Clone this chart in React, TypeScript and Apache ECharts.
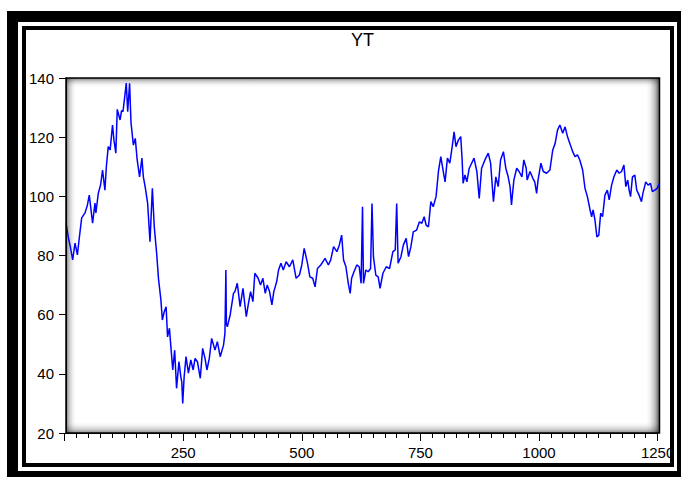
import React, { useEffect, useRef } from "react";
import * as echarts from "echarts";

const obs = [
  3, 8, 12, 17, 22, 27, 31, 36, 43, 48, 52, 56, 59, 64, 66, 71, 76, 80, 85, 88, 92, 96, 101, 104, 108, 111, 117, 120, 123, 126, 130, 133, 137, 140, 145, 149, 153, 158, 163, 166, 170, 175, 180, 185, 189, 194, 198,
  203, 206, 210, 214, 217, 221, 224, 228, 232, 236, 241, 245, 247, 249, 252, 256, 261, 266, 271, 275, 280, 286, 291, 296, 300, 305, 310, 317, 322, 328, 335, 338, 340, 341, 343, 349, 356, 359, 364, 370, 376, 383, 387, 392, 397, 401, 408, 413, 418, 423, 427, 432, 437, 441, 447, 451, 456, 461, 467, 474, 481, 488, 495,
  500, 505, 512, 517, 523, 528, 533, 540, 549, 556, 561, 567, 574, 579, 584, 588, 593, 598, 602, 605, 610, 616, 621, 625, 628, 630, 635, 640, 645, 648, 651, 656, 661, 665, 671, 678, 685, 692, 697, 700, 703, 709, 714, 720, 725, 730, 735, 742, 748,
  753, 758, 762, 767, 772, 777, 783, 788, 793, 797, 802, 807, 812, 817, 821, 825, 830, 835, 838, 840, 844, 848, 853, 858, 863, 869, 874, 879, 886, 893, 898, 904, 909, 914, 919, 925, 930, 935, 939, 942, 947, 953, 958, 964, 968, 973, 975, 981, 987, 991, 995, 998,
  1004, 1009, 1016, 1023, 1029, 1034, 1039, 1044, 1050, 1055, 1060, 1065, 1071, 1076, 1081, 1086, 1092, 1097, 1102, 1107, 1111, 1114, 1118, 1122, 1126, 1130, 1134, 1139, 1144, 1148, 1153, 1158, 1164, 1169, 1174, 1179, 1183, 1187, 1190, 1193, 1197, 1202, 1206, 1211, 1216, 1219, 1225, 1230, 1235, 1239, 1244, 1249, 1254,
];

const yt = [
  91, 86, 83, 78.5, 84.2, 80.2, 86, 92.7, 94.4, 97, 100.4, 95, 90.9, 97.7, 94.4, 101, 104, 108.9, 102.1, 110, 116.8, 115.7, 124.1, 119, 114.6, 129.4, 125.8, 129, 128.6, 132.6, 138.3, 128.6, 138.2, 124.8, 117.3, 119.6, 112.3, 106.6, 112.9, 106.6, 103, 97.7, 84.7, 102.7, 89.7, 80.8, 72,
  65, 58.2, 61, 62.7, 52.5, 55.4, 49.2, 41.3, 48, 35.1, 44.1, 39, 37.3, 30, 39, 45.8, 40.2, 44.7, 41.3, 45.2, 44.1, 38.5, 48.6, 45.2, 41.3, 45.2, 52, 48, 50.9, 45.8, 49.7, 53.7, 75.1, 57, 55.9, 59.9, 67.2, 67.8, 70.6, 62.7, 68.9, 59.3, 63.3, 67.8, 64.4, 74, 72.3, 70, 72.3, 67.2, 70, 67.8, 63.3, 67.8, 71.1, 75.1, 77.4, 75.1, 77.9, 76.2, 78.5, 72.3, 73.4,
  76.8, 82.4, 77.4, 72.8, 72.3, 69.4, 75.6, 76.8, 79, 76.8, 78.5, 83, 81.3, 83.5, 86.9, 78.5, 76.2, 70.6, 67.2, 72.3, 74.5, 76.8, 76.2, 70.6, 96.5, 70.6, 75.1, 74.5, 75.6, 97.6, 79.6, 73.4, 72.8, 68.9, 74, 76.2, 75.6, 81.3, 81.9, 97.6, 77.4, 79.6, 83.5, 85.8, 79.6, 83, 88, 88.6, 91.4,
  90.9, 93.1, 90.3, 89.7, 98.2, 96.5, 99.9, 108.4, 113.4, 109.5, 104.9, 112.9, 111.2, 116.8, 121.8, 116.8, 119, 120.2, 112.3, 104.4, 107.2, 104.9, 109.5, 111.2, 112.9, 108.4, 99.3, 109.5, 112.3, 114.6, 111.2, 98.2, 106.6, 103.3, 112.3, 115.1, 109.5, 106.6, 103.3, 97.1, 105.5, 109.5, 108.4, 106.6, 112.3, 109.5, 105.5, 108.4, 106.1, 104.9, 101, 105.5,
  111.2, 108.4, 107.8, 108.9, 115.7, 117.9, 122.4, 124.1, 121.3, 123.5, 120.2, 117.9, 115.1, 113.4, 114, 112.3, 108.9, 102.7, 99.9, 95.9, 93.1, 95.4, 92, 86.3, 86.9, 94.3, 93.1, 100.4, 102.1, 98.8, 103.8, 106.6, 108.9, 107.8, 108.4, 110.6, 103.3, 105.5, 102.1, 99.9, 106.6, 107.2, 102.1, 100.4, 98.2, 101, 104.9, 103.8, 104.4, 101.6, 102.1, 102.7, 104.4,
];

const FONT = "'Liberation Sans', Arial, Helvetica, sans-serif";

export default function App() {
  const ref = useRef<HTMLDivElement>(null);

  useEffect(() => {
    document.body.style.margin = "0";
    const chart = echarts.init(ref.current!, null, { renderer: "svg" });

    const PL = 66, PT = 78, PR = 659.5, PB = 433;
    const PW = PR - PL, PH = PB - PT;
    const shade = (a: number, horizontal: boolean, reverse: boolean) => {
      const stops = [
        { offset: 0, color: `rgba(0,0,0,${a})` },
        { offset: 0.35, color: `rgba(0,0,0,${a * 0.4})` },
        { offset: 0.7, color: `rgba(0,0,0,${a * 0.1})` },
        { offset: 1, color: "rgba(0,0,0,0)" },
      ];
      const cs = reverse ? stops.map((s) => ({ offset: 1 - s.offset, color: s.color })).reverse() : stops;
      return {
        type: "linear",
        x: 0,
        y: 0,
        x2: horizontal ? 1 : 0,
        y2: horizontal ? 0 : 1,
        colorStops: cs,
      };
    };

    chart.setOption({
      animation: false,
      title: {
        text: "YT",
        left: 351,
        top: 31,
        padding: 0,
        textStyle: { fontFamily: FONT, fontSize: 18, fontWeight: "normal", color: "#000" },
      },
      graphic: [
        { type: "rect", z: 0, silent: true, shape: { x: 7, y: 11, width: 700, height: 500 }, style: { fill: "#000" } },
        { type: "rect", z: 0, silent: true, shape: { x: 18, y: 22, width: 659, height: 449 }, style: { fill: "#fff" } },
        { type: "rect", z: 0, silent: true, shape: { x: 24, y: 28, width: 648, height: 437 }, style: { fill: "#fff", stroke: "#000", lineWidth: 4 } },
        { type: "rect", z: 0, silent: true, shape: { x: PL, y: PT, width: PW, height: PH }, style: { fill: "#fff" } },
        { type: "rect", z: 1, silent: true, shape: { x: PL, y: PT, width: PW, height: 9 }, style: { fill: shade(0.5, false, false) } },
        { type: "rect", z: 1, silent: true, shape: { x: PL, y: PB - 11, width: PW, height: 11 }, style: { fill: shade(0.45, false, true) } },
        { type: "rect", z: 1, silent: true, shape: { x: PL, y: PT, width: 10, height: PH }, style: { fill: shade(0.5, true, false) } },
        { type: "rect", z: 1, silent: true, shape: { x: PR - 13, y: PT, width: 13, height: PH }, style: { fill: shade(0.65, true, true) } },
        { type: "rect", z: 2, silent: true, shape: { x: PL, y: PT, width: PW, height: PH }, style: { fill: "none", stroke: "#000", lineWidth: 1.5 } },
      ],
      grid: { left: 64.6, top: PT, width: 593, height: PH, containLabel: false },
      xAxis: {
        type: "value",
        min: 0,
        max: 1250,
        interval: 250,
        z: 6,
        splitLine: { show: false },
        axisLine: { show: true, lineStyle: { color: "#000", width: 1 } },
        axisTick: { show: true, length: 8, lineStyle: { color: "#000", width: 1 } },
        minorTick: { show: true, splitNumber: 10, length: 5, lineStyle: { color: "#000", width: 1 } },
        minorSplitLine: { show: false },
        axisLabel: {
          margin: 12,
          fontFamily: FONT,
          fontSize: 15,
          color: "#000",
          formatter: (v: number) => (v > 0 && v % 250 === 0 ? String(v) : ""),
        },
      },
      yAxis: {
        type: "value",
        min: 20,
        max: 140,
        interval: 20,
        offset: -1.4,
        z: 6,
        splitLine: { show: false },
        axisLine: { show: true, lineStyle: { color: "#000", width: 1 } },
        axisTick: { show: true, length: 7, lineStyle: { color: "#000", width: 1 } },
        axisLabel: { margin: 12, fontFamily: FONT, fontSize: 15, color: "#000" },
      },
      series: [
        {
          type: "line",
          z: 5,
          clip: false,
          showSymbol: false,
          symbol: "none",
          data: obs.map((x, i) => [x, yt[i]]),
          lineStyle: { color: "#0000ff", width: 1.5 },
        },
      ],
    });

    return () => chart.dispose();
  }, []);

  return <div ref={ref} style={{ position: "absolute", left: 0, top: 0, width: 681, height: 477 }} />;
}
